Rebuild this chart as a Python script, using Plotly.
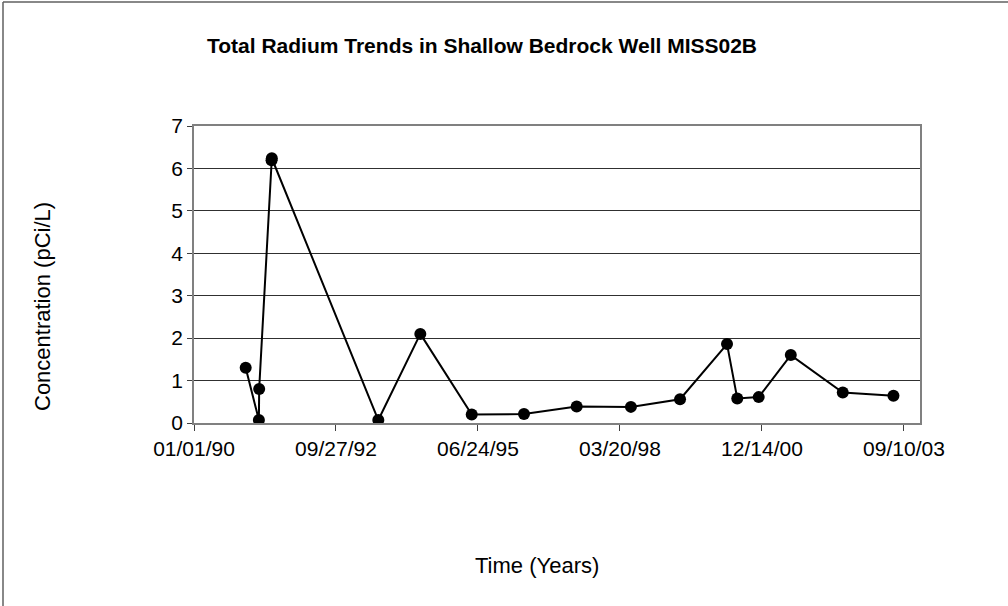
import plotly.graph_objects as go

# ========================================================
# Data
# ========================================================

sample_dates = ["1990-12-31", "1991-04-03", "1991-04-05", "1991-07-01", "1991-07-03",
                "1993-07-22", "1994-05-14", "1995-05-11", "1996-05-13", "1997-05-19",
                "1998-06-05", "1999-05-17", "2000-04-12", "2000-06-23", "2000-11-21",
                "2001-07-05", "2002-07-06", "2003-06-28"]
radium = [1.3, 0.07, 0.8, 6.19, 6.24,
          0.07, 2.1, 0.2, 0.21, 0.39,
          0.38, 0.56, 1.86, 0.58, 0.61,
          1.6, 0.72, 0.64]

title = "Total Radium Trends in Shallow Bedrock Well MISS02B"
x_title = "Time (Years)"
y_title = "Concentration (pCi/L)"

# ========================================================
# Layout helpers (pixel -> paper)
# ========================================================

W, H = 1008, 606
L, R, T, B = 194, 88, 126, 183
pw = W - L - R
ph = H - T - B

def px(x):
    return (x - L) / pw

def py(y):
    return (H - B - y) / ph

FONT = "Liberation Sans, Arial, sans-serif"

# ========================================================
# Figure
# ========================================================

fig = go.Figure()
fig.add_trace(go.Scatter(x=sample_dates, y=radium, mode="lines+markers",
                         line=dict(color="black", width=2),
                         marker=dict(color="black", size=12),
                         showlegend=False))

fig.update_xaxes(type="date", range=["1990-01-01", "2004-01-01"],
                 tick0="1990-01-01", dtick=1000 * 86400000, tickformat="%m/%d/%y",
                 ticks="outside", ticklen=6, tickcolor="#404040",
                 showline=True, linecolor="#808080", linewidth=1.5, mirror=True,
                 showgrid=False, zeroline=False,
                 tickfont=dict(family=FONT, size=21, color="black"))
fig.update_yaxes(range=[0, 7], dtick=1, ticks="outside", ticklen=5, tickcolor="#404040",
                 showline=True, linecolor="#808080", linewidth=1.5, mirror=True,
                 showgrid=True, gridcolor="#303030", gridwidth=1, zeroline=False,
                 tickfont=dict(family=FONT, size=21, color="black"))

fig.add_annotation(text="<b>" + title + "</b>", x=px(482), y=py(45), xref="paper", yref="paper",
                   showarrow=False, xanchor="center", yanchor="middle",
                   font=dict(family=FONT, size=21, color="black"))
fig.add_annotation(text=x_title, x=px(537), y=py(565), xref="paper", yref="paper",
                   showarrow=False, xanchor="center", yanchor="middle",
                   font=dict(family=FONT, size=22, color="black"))
fig.add_annotation(text=y_title, x=px(42), y=py(307), xref="paper", yref="paper",
                   showarrow=False, xanchor="center", yanchor="middle", textangle=-90,
                   font=dict(family=FONT, size=22, color="black"))

# chart area border (only top and left are visible)
fig.add_shape(type="line", xref="paper", yref="paper", x0=px(3), x1=px(W + 5), y0=py(2), y1=py(2),
              line=dict(color="#606060", width=1.5))
fig.add_shape(type="line", xref="paper", yref="paper", x0=px(3), x1=px(3), y0=py(2), y1=py(H + 5),
              line=dict(color="#606060", width=1.5))

fig.update_layout(width=W, height=H, margin=dict(l=L, r=R, t=T, b=B),
                  plot_bgcolor="white", paper_bgcolor="white")

# page has a default 8px body margin, drop it so the figure sits at 0,0
fig.write_html("out.html", config={"displayModeBar": False},
               post_script="document.body.style.margin='0';")
